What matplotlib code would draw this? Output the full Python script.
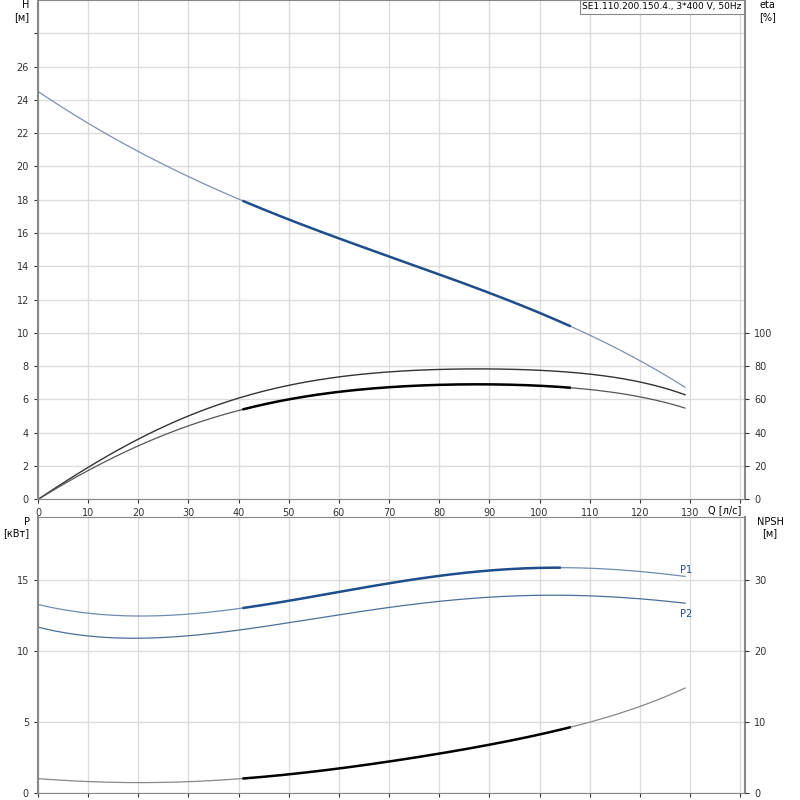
import numpy as np
import matplotlib
matplotlib.use("Agg")
import matplotlib.pyplot as plt

q = [0, 10, 20, 30, 40, 50, 60, 70, 80, 90, 100, 110, 120, 129]
h = [24.5, 22.6, 20.9, 19.4, 18.0, 16.8, 15.7, 14.6, 13.5, 12.4, 11.2, 9.8, 8.4, 6.7]
eta_a = [0, 19, 36, 50, 61, 69, 73, 76, 78, 78.5, 78, 75, 70, 63]
eta_b = [0, 17, 32, 44, 54, 60, 64, 67, 69, 69, 68.5, 66, 61, 55]
p1 = [13.3, 12.7, 12.5, 12.6, 13.0, 13.6, 14.2, 14.8, 15.3, 15.7, 15.9, 15.9, 15.6, 15.3]
p2 = [11.7, 11.1, 10.9, 11.1, 11.5, 12.0, 12.6, 13.1, 13.5, 13.8, 14.0, 13.9, 13.7, 13.4]
npsh = [2.0, 1.6, 1.4, 1.6, 2.0, 2.6, 3.4, 4.4, 5.6, 6.8, 8.2, 10.0, 12.2, 14.8]
op_lo, op_hi = 41, 106
title = "SE1.110.200.150.4., 3*400 V, 50Hz"

fig = plt.figure(figsize=(8, 8), dpi=100)
ax1 = fig.add_axes([0.0475, 0.376, 0.884, 0.624])
ax2 = fig.add_axes([0.0475, 0.009, 0.884, 0.345])
tfs = 7

def interp(xs, ys, n=300, lo=None, hi=None):
    c = np.polyfit(xs, ys, 5)
    x = np.linspace(lo if lo is not None else xs[0], hi if hi is not None else xs[-1], n)
    return x, np.polyval(c, x)

for ax in (ax1, ax2):
    ax.set_xlim(0, 141)
    ax.set_xticks(range(0, 141, 10))
    ax.grid(True, color="#dddddd", lw=1)
    ax.set_axisbelow(True)
    for s in ("left", "right"):
        ax.spines[s].set_color("#888888"); ax.spines[s].set_linewidth(1.5)
    for s in ("top", "bottom"):
        ax.spines[s].set_color("#888888")
    ax.tick_params(labelsize=tfs, length=3, colors="#333333")

ax1.set_ylim(0, 30)
ax1.set_yticks(range(0, 29, 2))
ax1.set_yticklabels([str(v) if v <= 26 else "" for v in range(0, 29, 2)])
ax1.set_xticklabels([str(v) if v <= 130 else "" for v in range(0, 141, 10)])
ax1.text(0.995, -0.012, "Q [л/с]", transform=ax1.transAxes, ha="right", va="top", fontsize=tfs)
x, y = interp(q, h); ax1.plot(x, y, color="#8090b0", lw=0.9)
x, y = interp(q, h, lo=op_lo, hi=op_hi); ax1.plot(x, y, color="#1f4e8c", lw=1.8)
x, y = interp(q, eta_a); ax1.plot(x, y / 10, color="#333333", lw=1.0)
x, y = interp(q, eta_b); ax1.plot(x, y / 10, color="#555555", lw=0.9)
x, y = interp(q, eta_b, lo=op_lo, hi=op_hi); ax1.plot(x, y / 10, color="black", lw=1.8)
ax1r = ax1.twinx()
ax1r.set_ylim(0, 300)
ax1r.set_yticks(range(0, 101, 20))
ax1r.tick_params(labelsize=tfs, length=3, colors="#333333")
for s in ax1r.spines.values(): s.set_visible(False)
ax1.text(-0.012, 1.0, "H\n[м]", transform=ax1.transAxes, ha="right", va="top", fontsize=tfs)
ax1.text(1.02, 1.0, "eta\n[%]", transform=ax1.transAxes, ha="left", va="top", fontsize=tfs)
ax1.text(0.995, 0.995, title, transform=ax1.transAxes, ha="right", va="top", fontsize=6.5,
         bbox=dict(boxstyle="square,pad=0.3", fc="white", ec="#888888", lw=0.8))

ax2.set_ylim(0, 19.5)
ax2.set_yticks([0, 5, 10, 15])
ax2.tick_params(axis="x", labelbottom=False)
x, y = interp(q, p1); ax2.plot(x, y, color="#6f8cb0", lw=0.9)
x, y = interp(q, p1, lo=op_lo, hi=104); ax2.plot(x, y, color="#1f4e8c", lw=1.8)
x, y = interp(q, p2); ax2.plot(x, y, color="#4a6f9a", lw=0.9)
x, y = interp(q, npsh); ax2.plot(x, y / 2, color="#888888", lw=0.9)
x, y = interp(q, npsh, lo=op_lo, hi=op_hi); ax2.plot(x, y / 2, color="black", lw=1.8)
ax2.text(128, p1[-1] + 0.2, "P1", fontsize=tfs, color="#1f4e8c")
ax2.text(128, p2[-1] - 1.0, "P2", fontsize=tfs, color="#1f4e8c")
ax2r = ax2.twinx()
ax2r.set_ylim(0, 39)
ax2r.set_yticks([0, 10, 20, 30])
ax2r.tick_params(labelsize=tfs, length=3, colors="#333333")
for s in ax2r.spines.values(): s.set_visible(False)
ax2.text(-0.012, 1.0, "P\n[кВт]", transform=ax2.transAxes, ha="right", va="top", fontsize=tfs)
ax2.text(1.035, 1.0, "NPSH\n[м]", transform=ax2.transAxes, ha="center", va="top", fontsize=tfs)

fig.savefig("out.png", dpi=100)
